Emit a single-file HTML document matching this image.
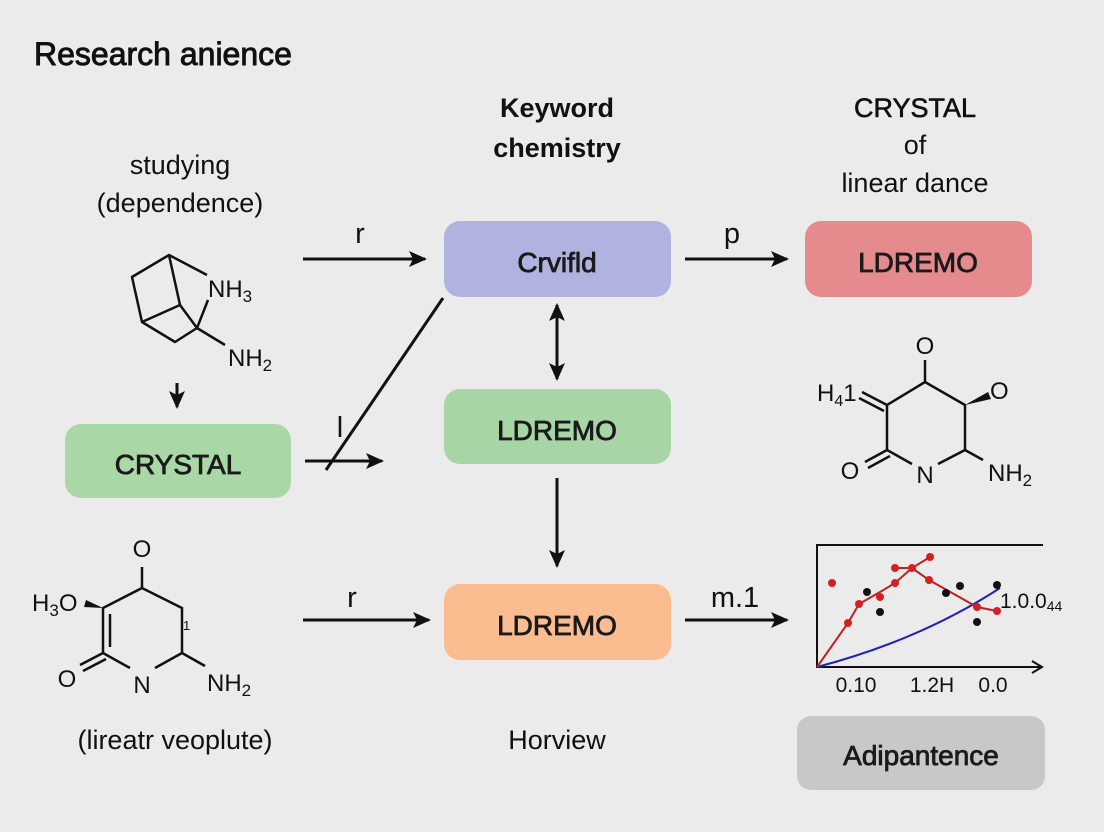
<!DOCTYPE html>
<html><head><meta charset="utf-8"><style>
html,body{margin:0;padding:0;background:#ebebeb;}
svg{display:block;font-family:"Liberation Sans",sans-serif;}
</style></head><body>
<svg width="1104" height="832" viewBox="0 0 1104 832" xmlns="http://www.w3.org/2000/svg">
<defs>
<marker id="b" markerWidth="18" markerHeight="18" refX="16" refY="9" orient="auto-start-reverse" markerUnits="userSpaceOnUse" viewBox="0 0 18 18"><path d="M0,1 L18,9 L0,17 L4,9 z" fill="#111"/></marker>
</defs>
<rect x="0" y="0" width="1104" height="832" rx="22" fill="#ebebeb"/>
<text x="34" y="65" font-size="32" fill="#111" stroke="#111" stroke-width="0.9">Research anience</text>

<g font-size="27" fill="#111" text-anchor="middle">
<text x="557" y="117" font-weight="bold">Keyword</text>
<text x="557" y="157" font-weight="bold">chemistry</text>
<text x="915" y="117" stroke="#111" stroke-width="0.6">CRYSTAL</text>
<text x="915" y="154">of</text>
<text x="915" y="192">linear dance</text>
<text x="180" y="174">studying</text>
<text x="180" y="212">(dependence)</text>
<text x="557" y="749">Horview</text>
<text x="175" y="749">(lireatr veoplute)</text>
</g>

<g font-size="28" fill="#1a1a1a" text-anchor="middle">
<rect x="444" y="221" width="227" height="76" rx="16" fill="#b0b3df"/>
<rect x="805" y="221" width="227" height="76" rx="16" fill="#e58b8e"/>
<rect x="444" y="389" width="227" height="75" rx="16" fill="#a8d5a5"/>
<rect x="65" y="424" width="226" height="74" rx="16" fill="#a9d8a6"/>
<rect x="444" y="584" width="227" height="76" rx="16" fill="#fbbd8f"/>
<rect x="797" y="716" width="248" height="74" rx="14" fill="#c8c8c8"/>
<g stroke="#1a1a1a" stroke-width="0.8">
<text x="557" y="272">Crvifld</text>
<text x="918" y="272">LDREMO</text>
<text x="557" y="440">LDREMO</text>
<text x="178" y="474">CRYSTAL</text>
<text x="557" y="635">LDREMO</text>
<text x="921" y="765">Adipantence</text>
</g>
</g>

<g stroke="#111" stroke-width="3" fill="none">
<line x1="303" y1="259" x2="425" y2="259" marker-end="url(#b)"/>
<line x1="685" y1="259" x2="787" y2="259" marker-end="url(#b)"/>
<line x1="557" y1="305" x2="557" y2="379" marker-start="url(#b)" marker-end="url(#b)"/>
<line x1="557" y1="478" x2="557" y2="566" marker-end="url(#b)"/>
<line x1="303" y1="620" x2="429" y2="620" marker-end="url(#b)"/>
<line x1="685" y1="620" x2="787" y2="620" marker-end="url(#b)"/>
<line x1="305" y1="461" x2="382" y2="461" marker-end="url(#b)"/>
<line x1="443" y1="298" x2="326" y2="470"/>
<line x1="177" y1="383" x2="177" y2="407" marker-end="url(#b)"/>
</g>
<g font-size="29" fill="#111" text-anchor="middle">
<text x="360" y="243">r</text>
<text x="732" y="243">p</text>
<text x="352" y="607">r</text>
<text x="735" y="607">m.1</text>
<text x="340" y="437">l</text>
</g>

<!-- molecule 1 -->
<g stroke="#111" stroke-width="2.5" fill="none" stroke-linejoin="round">
<polyline points="207,275 169,255 132,277 142,322 175,342 197,328 208,300"/>
<polyline points="169,255 180,305 142,322"/>
<line x1="180" y1="305" x2="197" y2="328"/>
<line x1="197" y1="328" x2="225" y2="345"/>
</g>
<g font-size="24" fill="#111">
<text x="208" y="297">NH<tspan font-size="17" dy="5">3</tspan></text>
<text x="228" y="366">NH<tspan font-size="17" dy="5">2</tspan></text>
</g>

<!-- molecule 2 -->
<g stroke="#111" stroke-width="2.5" fill="none">
<polyline points="965,450 965,405 925,382 887,405 887,450 912,464"/>
<line x1="938" y1="464" x2="965" y2="450"/>
<line x1="925" y1="382" x2="925" y2="360"/>
<line x1="965" y1="450" x2="983" y2="460"/>
<line x1="887" y1="405" x2="862" y2="392"/>
<line x1="884" y1="411" x2="859" y2="398"/>
<line x1="887" y1="450" x2="865" y2="462"/>
<line x1="890" y1="456" x2="868" y2="468"/>
</g>
<path d="M965,405 L988,392 L991,399 z" fill="#111"/>
<g font-size="24" fill="#111">
<text x="925" y="354" text-anchor="middle">O</text>
<text x="990" y="399">O</text>
<text x="817" y="401">H<tspan font-size="16" dy="5">4</tspan><tspan dy="-5">1</tspan></text>
<text x="850" y="479" text-anchor="middle">O</text>
<text x="925" y="483" text-anchor="middle">N</text>
<text x="988" y="481">NH<tspan font-size="17" dy="5">2</tspan></text>
</g>

<!-- molecule 3 -->
<g stroke="#111" stroke-width="2.5" fill="none">
<polyline points="182,653 182,608 142,588 103,608 103,653 130,668"/>
<line x1="155" y1="668" x2="182" y2="653"/>
<line x1="110" y1="614" x2="110" y2="647"/>
<line x1="142" y1="588" x2="142" y2="567"/>
<line x1="182" y1="653" x2="205" y2="666"/>
<line x1="103" y1="653" x2="80" y2="665"/>
<line x1="106" y1="659" x2="83" y2="671"/>
</g>
<path d="M103,608 L86,600 L84,607 z" fill="#111"/>
<g font-size="24" fill="#111">
<text x="142" y="557" text-anchor="middle">O</text>
<text x="32" y="611">H<tspan font-size="17" dy="5">3</tspan><tspan dy="-5">O</tspan></text>
<text x="67" y="687" text-anchor="middle">O</text>
<text x="142" y="693" text-anchor="middle">N</text>
<text x="207" y="691">NH<tspan font-size="17" dy="5">2</tspan></text>
<text x="183" y="630" font-size="13">1</text>
</g>

<!-- chart -->
<g stroke="#111" stroke-width="2" fill="none">
<polyline points="1043,545 817,545 817,667 1040,667"/>
<polyline points="1032,661 1042,667 1032,673"/>
</g>
<path d="M817,667 Q920,640 1000,588" stroke="#2222bb" stroke-width="2" fill="none"/>
<polyline points="817,667 848,623 859,604 880,592 895,583 912,568 930,557" stroke="#c02020" stroke-width="2" fill="none"/>
<polyline points="895,568 912,568 929,580 977,607 997,611" stroke="#c02020" stroke-width="2" fill="none"/>
<g fill="#d42020">
<circle cx="832" cy="583" r="4"/><circle cx="848" cy="623" r="4"/><circle cx="859" cy="604" r="4"/>
<circle cx="880" cy="597" r="4"/><circle cx="895" cy="583" r="4"/><circle cx="895" cy="568" r="4"/>
<circle cx="912" cy="568" r="4"/><circle cx="930" cy="557" r="4"/><circle cx="929" cy="580" r="4"/>
<circle cx="977" cy="607" r="4"/><circle cx="997" cy="611" r="4"/>
</g>
<g fill="#111">
<circle cx="867" cy="592" r="4"/><circle cx="880" cy="612" r="4"/><circle cx="946" cy="593" r="4"/>
<circle cx="960" cy="586" r="4"/><circle cx="977" cy="622" r="4"/><circle cx="997" cy="585" r="4"/>
</g>
<g font-size="21" fill="#111">
<text x="1000" y="608">1.0.0<tspan font-size="14" dy="3">44</tspan></text>
<text x="856" y="692" text-anchor="middle">0.10</text>
<text x="932" y="692" text-anchor="middle">1.2H</text>
<text x="993" y="692" text-anchor="middle">0.0</text>
</g>
</svg>
</body></html>
